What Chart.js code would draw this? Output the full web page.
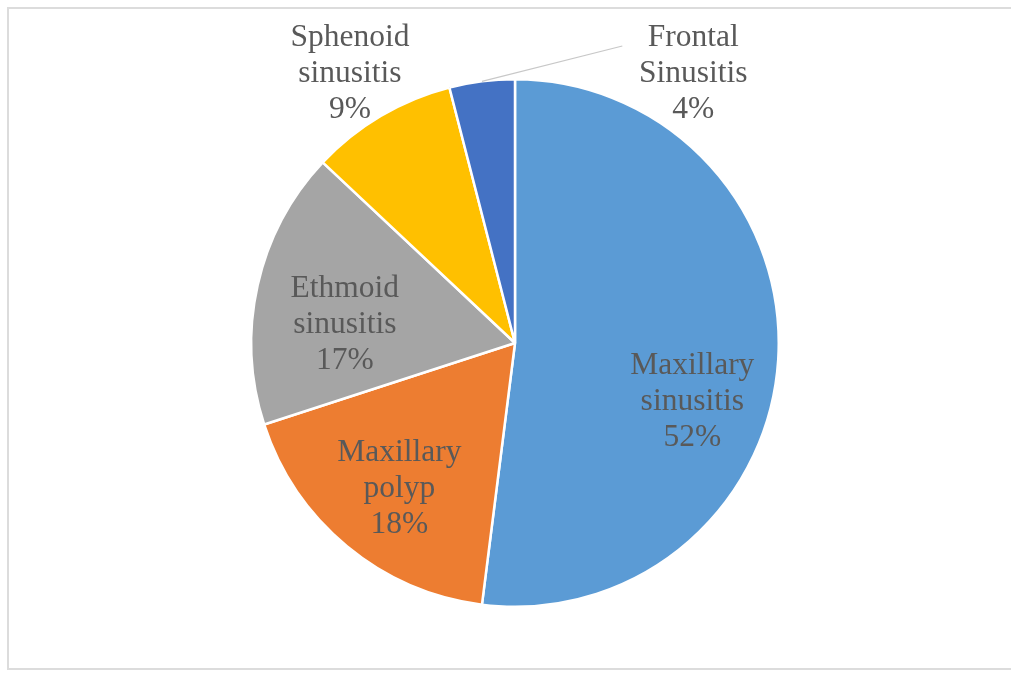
<!DOCTYPE html>
<html>
<head>
<meta charset="utf-8">
<title>Sinus disease distribution</title>
<script src="https://cdn.jsdelivr.net/npm/chart.js@4"></script>
<style>
  html, body { margin: 0; padding: 0; background: #fff; }
  #wrap { position: relative; width: 1011px; height: 678px; overflow: hidden; }
  #frame {
    position: absolute; left: 7px; top: 7px; width: 1020px; height: 663px;
    border: 2px solid #dcdcdc; box-sizing: border-box;
  }
  #pie { position: absolute; left: 0; top: 0; }
</style>
</head>
<body>
<div id="wrap">
  <div id="frame"></div>
  <canvas id="pie" width="1011" height="678"></canvas>
</div>
<script>
// Diagnoses, in drawing order (clockwise from 12 o'clock)
var categories = [
    ['Maxillary', 'sinusitis'],
    ['Maxillary', 'polyp'],
    ['Ethmoid', 'sinusitis'],
    ['Sphenoid', 'sinusitis'],
    ['Frontal', 'Sinusitis']
];
var shares = [52, 18, 17, 9, 4];
var sliceColors = ['#5B9BD5', '#ED7D31', '#A5A5A5', '#FFC000', '#4472C4'];

// where each label sits: fraction of radius along the slice middle, plus a nudge
var labelSpots = [
    { f: 0.7, dx: -7,  dy: 47 },
    { f: 0.7, dx: 2,   dy: 3 },
    { f: 0.7, dx: 10,  dy: 22 },
    { f: 1.2, dx: -4,  dy: 3 },
    { f: 1.2, dx: 218, dy: 45, lead: [-71, -28] }
];

var FONT = '31.5px "Liberation Serif", "Times New Roman", serif';
var LINE_H = 36;

// Draws the category + percent labels, and a leader line for the small slice
var pieLabels = {
    id: 'pieLabels',
    afterDatasetsDraw: function(chart) {
        var ctx = chart.ctx;
        var meta = chart.getDatasetMeta(0);
        ctx.save();
        ctx.font = FONT;
        ctx.textAlign = 'center';
        ctx.textBaseline = 'middle';
        meta.data.forEach(function(arc, i) {
            var p = arc.getProps(['x', 'y', 'startAngle', 'endAngle', 'outerRadius'], true);
            var mid = (p.startAngle + p.endAngle) / 2;
            var spot = labelSpots[i];
            var lx = p.x + Math.cos(mid) * p.outerRadius * spot.f + spot.dx;
            var ly = p.y + Math.sin(mid) * p.outerRadius * spot.f + spot.dy;

            if (spot.lead) {
                ctx.strokeStyle = '#c8c8c8';
                ctx.lineWidth = 1.2;
                ctx.beginPath();
                ctx.moveTo(p.x + Math.cos(mid) * p.outerRadius, p.y + Math.sin(mid) * p.outerRadius);
                ctx.lineTo(lx + spot.lead[0], ly + spot.lead[1]);
                ctx.stroke();
            }

            var lines = categories[i].concat([shares[i] + '%']);
            ctx.fillStyle = '#595959';
            lines.forEach(function(t, k) {
                ctx.fillText(t, lx, ly + (k - 1) * LINE_H);
            });
        });
        ctx.restore();
    }
};

new Chart(document.getElementById('pie'), {
    type: 'pie',
    data: {
        labels: categories.map(function(c) { return c.join(' '); }),
        datasets: [{
            data: shares,
            backgroundColor: sliceColors,
            borderColor: '#ffffff',
            borderWidth: 2.5,
            hoverOffset: 0
        }]
    },
    options: {
        responsive: false,
        animation: false,
        layout: { padding: { top: 78, bottom: 70, left: 19, right: 0 } },
        plugins: {
            legend: { display: false },
            tooltip: { enabled: false }
        }
    },
    plugins: [pieLabels]
});
</script>
</body>
</html>
